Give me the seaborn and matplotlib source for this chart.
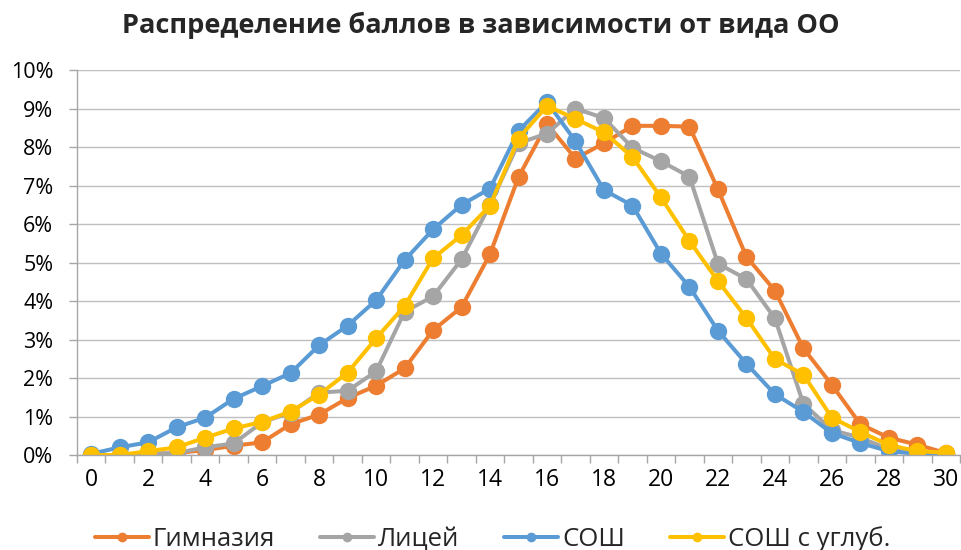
import matplotlib
matplotlib.use("Agg")
import matplotlib.pyplot as plt
from matplotlib.lines import Line2D
from matplotlib.ticker import FuncFormatter, MultipleLocator
import seaborn as sns
import pandas as pd

scores = list(range(0, 31))
series_names = ["Гимназия", "Лицей", "СОШ", "СОШ с углуб."]

gymnasium = [0.0, 0.0, 0.02, 0.05, 0.13, 0.24, 0.33, 0.80, 1.05, 1.48, 1.80, 2.25, 3.24, 3.84, 5.22, 7.22,
             8.60, 7.70, 8.10, 8.55, 8.55, 8.53, 6.90, 5.15, 4.27, 2.77, 1.82, 0.80, 0.45, 0.27, 0.05]
lyceum = [0.0, 0.0, 0.04, 0.05, 0.20, 0.30, 0.85, 1.10, 1.62, 1.67, 2.17, 3.72, 4.12, 5.08, 6.50, 8.10,
          8.35, 9.00, 8.75, 7.98, 7.63, 7.23, 4.97, 4.57, 3.55, 1.33, 0.65, 0.45, 0.15, 0.07, 0.03]
school = [0.03, 0.20, 0.33, 0.72, 0.97, 1.46, 1.79, 2.13, 2.85, 3.36, 4.02, 5.06, 5.86, 6.50, 6.92, 8.42,
          9.17, 8.15, 6.88, 6.48, 5.23, 4.37, 3.23, 2.37, 1.58, 1.12, 0.57, 0.31, 0.10, 0.03, 0.02]
school_adv = [0.0, 0.0, 0.10, 0.20, 0.45, 0.69, 0.86, 1.13, 1.57, 2.14, 3.03, 3.87, 5.11, 5.71, 6.48, 8.22,
              9.07, 8.73, 8.38, 7.74, 6.69, 5.56, 4.52, 3.56, 2.49, 2.09, 0.97, 0.60, 0.26, 0.10, 0.06]

colors = ["#ED7D31", "#A5A5A5", "#5B9BD5", "#FFC000"]
x_tick_labels = [str(v) for v in range(0, 31, 2)]

df = pd.concat([
    pd.DataFrame({"score": scores, "pct": vals, "type": name})
    for name, vals in zip(series_names, [gymnasium, lyceum, school, school_adv])
], ignore_index=True)

sns.set_theme(style="white")
plt.rcParams["font.family"] = ["Open Sans", "DejaVu Sans"]

fig = plt.figure(figsize=(9.62, 5.5), dpi=100)
ax = fig.add_axes([0.080, 0.1727, 0.918, 0.700])

sns.lineplot(data=df, x="score", y="pct", hue="type", hue_order=series_names,
             palette=colors, marker="o", markersize=12.5, markeredgewidth=0,
             linewidth=2.9, ax=ax, legend=False)

ax.set_xlim(-0.5, 30.5)
ax.set_ylim(0, 10)
ax.yaxis.set_major_locator(MultipleLocator(1))
ax.yaxis.set_major_formatter(FuncFormatter(lambda v, p: f"{v:.0f}%"))
ax.set_xticks(list(range(0, 31, 2)))
ax.set_xticklabels(x_tick_labels)
ax.set_xticks([i - 0.5 for i in range(0, 32)], minor=True)
ax.tick_params(axis="x", which="major", length=0, labelsize=16.5, pad=9, labelcolor="#000000")
ax.tick_params(axis="x", which="minor", length=5.5, width=1, color="#A6A6A6", direction="out", bottom=True)
ax.tick_params(axis="y", which="major", length=6, width=1, color="#A6A6A6", labelsize=15.5,
               pad=11, labelcolor="#000000", left=True)

ax.grid(axis="y", color="#BFBFBF", linewidth=1)
ax.set_axisbelow(True)
for s in ["top", "right"]:
    ax.spines[s].set_visible(False)
for s in ["left", "bottom"]:
    ax.spines[s].set_color("#A6A6A6")
    ax.spines[s].set_linewidth(1)
ax.set_xlabel("")
ax.set_ylabel("")

fig.suptitle("Распределение баллов в зависимости от вида ОО", x=0.5, y=0.978,
             fontsize=19.5, fontweight="bold", va="top")

handles = [Line2D([0], [0], color=c, lw=2.9, marker="o", markersize=7, markeredgewidth=0)
           for c in colors]
fig.legend(handles, series_names, loc="center", bbox_to_anchor=(0.512, 0.02), ncol=4,
           frameon=False, fontsize=18.5, handlelength=2.1, handletextpad=0.15, columnspacing=1.75)

fig.savefig("out.png", dpi=100)
